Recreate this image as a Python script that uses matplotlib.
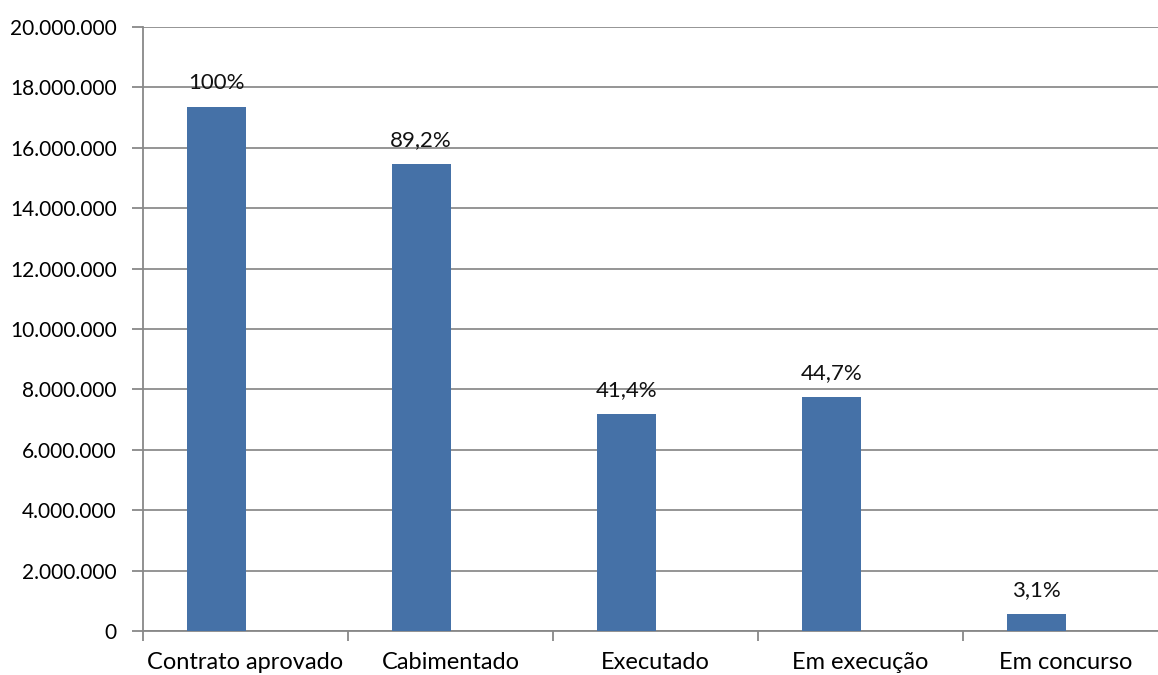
import matplotlib.pyplot as plt
from matplotlib.ticker import FuncFormatter
import numpy as np

# data
categories = ["Contrato aprovado", "Cabimentado", "Executado", "Em execução", "Em concurso"]
values = [17350000, 15480000, 7190000, 7760000, 560000]
pct_labels = ["100%", "89,2%", "41,4%", "44,7%", "3,1%"]

plt.rcParams['font.family'] = ['Lato', 'DejaVu Sans']

fig = plt.figure(figsize=(11.58, 6.75), dpi=100)
ax = fig.add_axes([143 / 1158, 44 / 675, 1025 / 1158, 604 / 675])

x = np.arange(len(categories))
bar_w = 0.286
# bars sit left of centre (2nd empty series in original)
bars = ax.bar(x - 0.143, values, width=bar_w, color='#4571a7', zorder=3)

for b, lab in zip(bars, pct_labels):
    ax.annotate(lab, (b.get_x() + b.get_width() / 2, b.get_height()),
                xytext=(0, 10), textcoords='offset points',
                ha='center', va='bottom', fontsize=16, color='#111111')

ax.set_xlim(-0.5, len(categories) - 0.5)
ax.set_ylim(0, 20000000)
ax.set_yticks(np.arange(0, 20000001, 2000000))
ax.yaxis.set_major_formatter(FuncFormatter(lambda v, p: f"{int(v):,}".replace(",", ".")))

ax.set_xticks(x)
ax.set_xticklabels(categories)
ax.set_xticks(np.arange(-0.5, len(categories)), minor=True)
ax.tick_params(axis='x', which='major', length=0, pad=15, labelsize=17)
ax.tick_params(axis='x', which='minor', length=7, width=1.3, color='#888888')
ax.tick_params(axis='y', length=8, width=1.3, color='#888888', labelsize=15, pad=11)

ax.yaxis.grid(True, color='#8c8c8c', linewidth=1.3, zorder=0)
for s in ['top', 'right']:
    ax.spines[s].set_visible(False)
for s in ['left', 'bottom']:
    ax.spines[s].set_color('#888888')
    ax.spines[s].set_linewidth(1.3)

fig.savefig("out.png", dpi=100)
